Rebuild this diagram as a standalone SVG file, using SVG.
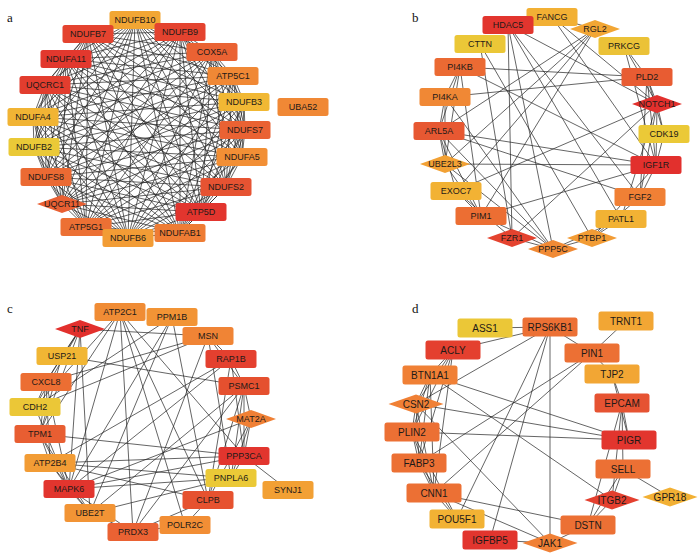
<svg xmlns="http://www.w3.org/2000/svg" xmlns:xlink="http://www.w3.org/1999/xlink" width="700" height="557" viewBox="0 0 700 557">
<style>
.e path{fill:none;stroke:#222;stroke-width:0.7}
.n text{fill:#1e1a18;font-family:"Liberation Sans",Arial,sans-serif;font-size:9px;text-anchor:middle}
.d text{font-size:10px}
.lbl{font-family:"Liberation Serif","Times New Roman",serif;font-size:13px;fill:#111}
</style>
<defs>
<rect id="r" x="-25.5" y="-9" width="51" height="18" rx="2.5"/>
<polygon id="m" points="-25,0 0,-9 25,0 0,9"/>
<rect id="rd" x="-27.5" y="-9.5" width="55" height="19" rx="2.5"/>
<polygon id="md" points="-27.5,0 0,-9.5 27.5,0 0,9.5"/>
</defs>
<rect width="700" height="557" fill="#fff"/>
<text class="lbl" x="7" y="22">a</text>
<text class="lbl" x="412" y="22">b</text>
<text class="lbl" x="7" y="313">c</text>
<text class="lbl" x="412" y="313">d</text>
<g id="connectors" class="e">
<g id="edges-a"><path d="M135 20L88 34M135 20L180 32M135 20L212 52M135 20L66 59M135 20L233 76M135 20L45 85M135 20L244 102M135 20L33 117M135 20L245 130M135 20L34 147M135 20L242 157M135 20L46 177M135 20L226 187M135 20L62 204M135 20L201 212M135 20L86 227M135 20L180 233M135 20L128 238M88 34L180 32M88 34L212 52M88 34L66 59M88 34L233 76M88 34L45 85M88 34L244 102M88 34L33 117M88 34L245 130M88 34L34 147M88 34L242 157M88 34L46 177M88 34L226 187M88 34L62 204M88 34L201 212M88 34L86 227M88 34L180 233M88 34L128 238M180 32L212 52M180 32L66 59M180 32L233 76M180 32L45 85M180 32L244 102M180 32L33 117M180 32L245 130M180 32L34 147M180 32L242 157M180 32L46 177M180 32L226 187M180 32L62 204M180 32L201 212M180 32L86 227M180 32L180 233M180 32L128 238M212 52L66 59M212 52L233 76M212 52L45 85M212 52L244 102M212 52L33 117M212 52L245 130M212 52L34 147M212 52L242 157M212 52L46 177M212 52L226 187M212 52L62 204M212 52L201 212M212 52L86 227M212 52L180 233M212 52L128 238M66 59L233 76M66 59L45 85M66 59L244 102M66 59L33 117M66 59L245 130M66 59L34 147M66 59L242 157M66 59L46 177M66 59L226 187M66 59L62 204M66 59L201 212M66 59L86 227M66 59L180 233M66 59L128 238M233 76L45 85M233 76L244 102M233 76L33 117M233 76L245 130M233 76L34 147M233 76L242 157M233 76L46 177M233 76L226 187M233 76L62 204M233 76L201 212M233 76L86 227M233 76L180 233M233 76L128 238M45 85L244 102M45 85L33 117M45 85L245 130M45 85L34 147M45 85L242 157M45 85L46 177M45 85L226 187M45 85L62 204M45 85L201 212M45 85L86 227M45 85L180 233M45 85L128 238M244 102L33 117M244 102L245 130M244 102L34 147M244 102L242 157M244 102L46 177M244 102L226 187M244 102L62 204M244 102L201 212M244 102L86 227M244 102L180 233M244 102L128 238M33 117L245 130M33 117L34 147M33 117L242 157M33 117L46 177M33 117L226 187M33 117L62 204M33 117L201 212M33 117L86 227M33 117L180 233M33 117L128 238M245 130L34 147M245 130L242 157M245 130L46 177M245 130L226 187M245 130L62 204M245 130L201 212M245 130L86 227M245 130L180 233M245 130L128 238M34 147L242 157M34 147L46 177M34 147L226 187M34 147L62 204M34 147L201 212M34 147L86 227M34 147L180 233M34 147L128 238M242 157L46 177M242 157L226 187M242 157L62 204M242 157L201 212M242 157L86 227M242 157L180 233M242 157L128 238M46 177L226 187M46 177L62 204M46 177L201 212M46 177L86 227M46 177L180 233M46 177L128 238M226 187L62 204M226 187L201 212M226 187L86 227M226 187L180 233M226 187L128 238M62 204L201 212M62 204L86 227M62 204L180 233M62 204L128 238M201 212L86 227M201 212L180 233M201 212L128 238M86 227L180 233M86 227L128 238M180 233L128 238"/></g>
<g id="edges-b"><path d="M552 17L595 29M552 17L657 104M552 17L656 165M508 25L512 238M508 25L553 249M508 25L640 197M508 25L657 104M508 25L621 219M595 29L439 131M595 29L445 164M595 29L456 191M595 29L481 216M624 46L647 77M624 46L657 104M624 46L656 165M460 67L647 77M445 97L647 77M647 77L657 104M647 77L664 134M647 77L656 165M647 77L640 197M480 44L592 238M480 44L512 238M460 67L445 97M460 67L439 131M460 67L445 164M460 67L481 216M460 67L656 165M445 97L439 131M445 97L445 164M445 97L553 249M439 131L445 164M439 131L456 191M439 131L481 216M439 131L656 165M439 131L640 197M439 131L553 249M445 164L656 165M445 164L481 216M445 164L553 249M456 191L481 216M456 191L512 238M456 191L657 104M481 216L656 165M481 216L553 249M512 238L553 249M512 238L657 104M553 249L592 238M553 249L621 219M592 238L621 219M592 238L640 197M592 238L656 165M657 104L664 134M657 104L656 165M657 104L640 197M657 104L621 219M664 134L656 165M656 165L640 197"/></g>
<g id="edges-c"><path d="M80 329L208 336M80 329L62 356M80 329L46 382M80 329L35 407M80 329L40 434M80 329L69 489M80 329L90 513M120 312L35 407M120 312L40 434M120 312L133 532M120 312L208 500M120 312L185 525M120 312L244 456M120 312L69 489M172 317L208 500M172 317L35 407M172 317L69 489M172 317L90 513M208 336L231 359M208 336L244 386M208 336L46 382M208 336L35 407M208 336L231 478M208 336L133 532M62 356L244 386M62 356L46 382M62 356L40 434M231 359L50 463M231 359L69 489M231 359L244 386M231 359L244 456M231 359L208 500M46 382L35 407M46 382L40 434M46 382L50 463M46 382L69 489M35 407L69 489M244 386L251 419M244 386L244 456M244 386L231 478M244 386L208 500M244 386L90 513M244 386L133 532M251 419L244 456M251 419L231 478M251 419L208 500M251 419L69 489M40 434L244 456M40 434L50 463M40 434L69 489M40 434L90 513M50 463L244 456M50 463L231 478M50 463L208 500M50 463L69 489M50 463L90 513M69 489L231 478M69 489L244 456M69 489L90 513M69 489L133 532M244 456L288 490M244 456L231 478M208 500L185 525M208 500L133 532M90 513L133 532M133 532L185 525M231 478L90 513"/></g>
<g id="edges-d"><path d="M485 328L550 327M453 350L550 327M626 321L592 353M550 327L592 353M592 353L612 374M612 374L622 403M612 374L629 440M622 403L629 440M622 403L623 469M622 403L612 500M622 403L588 525M623 469L670 497M623 469L612 500M623 469L588 525M612 500L588 525M588 525L550 543M550 543L490 540M550 327L550 543M550 327L416 404M550 327L490 540M550 327L457 519M592 353L419 463M592 353L434 493M430 375L629 440M416 404L629 440M412 432L629 440M430 375L612 500M416 404L550 543M434 493L588 525M434 493L550 543M453 350L430 375M453 350L416 404M453 350L412 432M453 350L419 463M453 350L434 493M430 375L416 404M430 375L412 432M430 375L419 463M430 375L434 493M416 404L412 432M416 404L419 463M416 404L434 493M412 432L419 463M412 432L434 493M419 463L434 493M419 463L457 519M434 493L457 519M412 432L457 519"/></g>
</g>
<g id="nodes-a">
<g id="NDUFB10" class="n" transform="translate(135 20)" fill="#F2A634"><use href="#r"/><text y="3.2">NDUFB10</text></g>
<g id="NDUFB7" class="n" transform="translate(88 34)" fill="#E4432F"><use href="#r"/><text y="3.2">NDUFB7</text></g>
<g id="NDUFB9" class="n" transform="translate(180 32)" fill="#E4432F"><use href="#r"/><text y="3.2">NDUFB9</text></g>
<g id="COX5A" class="n" transform="translate(212 52)" fill="#EA6233"><use href="#r"/><text y="3.2">COX5A</text></g>
<g id="NDUFA11" class="n" transform="translate(66 59)" fill="#E2382E"><use href="#r"/><text y="3.2">NDUFA11</text></g>
<g id="ATP5C1" class="n" transform="translate(233 76)" fill="#F08835"><use href="#r"/><text y="3.2">ATP5C1</text></g>
<g id="UQCRC1" class="n" transform="translate(45 85)" fill="#E23D2E"><use href="#r"/><text y="3.2">UQCRC1</text></g>
<g id="NDUFB3" class="n" transform="translate(244 102)" fill="#F1B834"><use href="#r"/><text y="3.2">NDUFB3</text></g>
<g id="UBA52" class="n" transform="translate(303 107)" fill="#F08835"><use href="#r"/><text y="3.2">UBA52</text></g>
<g id="NDUFA4" class="n" transform="translate(33 117)" fill="#F1B434"><use href="#r"/><text y="3.2">NDUFA4</text></g>
<g id="NDUFS7" class="n" transform="translate(245 130)" fill="#EA6233"><use href="#r"/><text y="3.2">NDUFS7</text></g>
<g id="NDUFB2" class="n" transform="translate(34 147)" fill="#EAC937"><use href="#r"/><text y="3.2">NDUFB2</text></g>
<g id="NDUFA5" class="n" transform="translate(242 157)" fill="#F28F35"><use href="#r"/><text y="3.2">NDUFA5</text></g>
<g id="NDUFS8" class="n" transform="translate(46 177)" fill="#EB6A33"><use href="#r"/><text y="3.2">NDUFS8</text></g>
<g id="NDUFS2" class="n" transform="translate(226 187)" fill="#E65332"><use href="#r"/><text y="3.2">NDUFS2</text></g>
<g id="UQCR11" class="n" transform="translate(62 204)" fill="#E96033"><use href="#m"/><text y="3.2">UQCR11</text></g>
<g id="ATP5D" class="n" transform="translate(201 212)" fill="#E2352E"><use href="#r"/><text y="3.2">ATP5D</text></g>
<g id="ATP5G1" class="n" transform="translate(86 227)" fill="#EC7034"><use href="#r"/><text y="3.2">ATP5G1</text></g>
<g id="NDUFAB1" class="n" transform="translate(180 233)" fill="#EE7C34"><use href="#r"/><text y="3.2">NDUFAB1</text></g>
<g id="NDUFB6" class="n" transform="translate(128 238)" fill="#F29C35"><use href="#r"/><text y="3.2">NDUFB6</text></g>
</g>
<g id="nodes-b">
<g id="FANCG" class="n" transform="translate(552 17)" fill="#F2B034"><use href="#r"/><text y="3.2">FANCG</text></g>
<g id="HDAC5" class="n" transform="translate(508 25)" fill="#E2352E"><use href="#r"/><text y="3.2">HDAC5</text></g>
<g id="RGL2" class="n" transform="translate(595 29)" fill="#F2A634"><use href="#m"/><text y="3.2">RGL2</text></g>
<g id="CTTN" class="n" transform="translate(480 44)" fill="#EBC737"><use href="#r"/><text y="3.2">CTTN</text></g>
<g id="PRKCG" class="n" transform="translate(624 46)" fill="#EBC237"><use href="#r"/><text y="3.2">PRKCG</text></g>
<g id="PI4KB" class="n" transform="translate(460 67)" fill="#EB6A33"><use href="#r"/><text y="3.2">PI4KB</text></g>
<g id="PLD2" class="n" transform="translate(647 77)" fill="#E85C32"><use href="#r"/><text y="3.2">PLD2</text></g>
<g id="PI4KA" class="n" transform="translate(445 97)" fill="#F08835"><use href="#r"/><text y="3.2">PI4KA</text></g>
<g id="NOTCH1" class="n" transform="translate(657 104)" fill="#E2302D"><use href="#m"/><text y="3.2">NOTCH1</text></g>
<g id="ARL5A" class="n" transform="translate(439 131)" fill="#E75832"><use href="#r"/><text y="3.2">ARL5A</text></g>
<g id="CDK19" class="n" transform="translate(664 134)" fill="#EBC937"><use href="#r"/><text y="3.2">CDK19</text></g>
<g id="UBE2L3" class="n" transform="translate(445 164)" fill="#F2A134"><use href="#m"/><text y="3.2">UBE2L3</text></g>
<g id="IGF1R" class="n" transform="translate(656 165)" fill="#E2302D"><use href="#r"/><text y="3.2">IGF1R</text></g>
<g id="EXOC7" class="n" transform="translate(456 191)" fill="#F2B234"><use href="#r"/><text y="3.2">EXOC7</text></g>
<g id="FGF2" class="n" transform="translate(640 197)" fill="#F08035"><use href="#r"/><text y="3.2">FGF2</text></g>
<g id="PIM1" class="n" transform="translate(481 216)" fill="#EC6E33"><use href="#r"/><text y="3.2">PIM1</text></g>
<g id="PATL1" class="n" transform="translate(621 219)" fill="#F2B234"><use href="#r"/><text y="3.2">PATL1</text></g>
<g id="FZR1" class="n" transform="translate(512 238)" fill="#E4432F"><use href="#m"/><text y="3.2">FZR1</text></g>
<g id="PTBP1" class="n" transform="translate(592 238)" fill="#F29C35"><use href="#m"/><text y="3.2">PTBP1</text></g>
<g id="PPP5C" class="n" transform="translate(553 249)" fill="#F08A35"><use href="#m"/><text y="3.2">PPP5C</text></g>
</g>
<g id="nodes-c">
<g id="ATP2C1" class="n" transform="translate(120 312)" fill="#F08C35"><use href="#r"/><text y="3.2">ATP2C1</text></g>
<g id="PPM1B" class="n" transform="translate(172 317)" fill="#F29435"><use href="#r"/><text y="3.2">PPM1B</text></g>
<g id="TNF" class="n" transform="translate(80 329)" fill="#E2302D"><use href="#m"/><text y="3.2">TNF</text></g>
<g id="MSN" class="n" transform="translate(208 336)" fill="#F08435"><use href="#r"/><text y="3.2">MSN</text></g>
<g id="USP21" class="n" transform="translate(62 356)" fill="#F1B634"><use href="#r"/><text y="3.2">USP21</text></g>
<g id="RAP1B" class="n" transform="translate(231 359)" fill="#E4402F"><use href="#r"/><text y="3.2">RAP1B</text></g>
<g id="CXCL8" class="n" transform="translate(46 382)" fill="#EC6E33"><use href="#r"/><text y="3.2">CXCL8</text></g>
<g id="PSMC1" class="n" transform="translate(244 386)" fill="#E5502F"><use href="#r"/><text y="3.2">PSMC1</text></g>
<g id="CDH2" class="n" transform="translate(35 407)" fill="#EBC737"><use href="#r"/><text y="3.2">CDH2</text></g>
<g id="MAT2A" class="n" transform="translate(251 419)" fill="#F08035"><use href="#m"/><text y="3.2">MAT2A</text></g>
<g id="TPM1" class="n" transform="translate(40 434)" fill="#E85E32"><use href="#r"/><text y="3.2">TPM1</text></g>
<g id="PPP3CA" class="n" transform="translate(244 456)" fill="#E2352E"><use href="#r"/><text y="3.2">PPP3CA</text></g>
<g id="ATP2B4" class="n" transform="translate(50 463)" fill="#F29C35"><use href="#r"/><text y="3.2">ATP2B4</text></g>
<g id="PNPLA6" class="n" transform="translate(231 478)" fill="#EBC937"><use href="#r"/><text y="3.2">PNPLA6</text></g>
<g id="SYNJ1" class="n" transform="translate(288 490)" fill="#F2A034"><use href="#r"/><text y="3.2">SYNJ1</text></g>
<g id="MAPK6" class="n" transform="translate(69 489)" fill="#E2352E"><use href="#r"/><text y="3.2">MAPK6</text></g>
<g id="CLPB" class="n" transform="translate(208 500)" fill="#E6522F"><use href="#r"/><text y="3.2">CLPB</text></g>
<g id="UBE2T" class="n" transform="translate(90 513)" fill="#F29435"><use href="#r"/><text y="3.2">UBE2T</text></g>
<g id="POLR2C" class="n" transform="translate(185 525)" fill="#F28E35"><use href="#r"/><text y="3.2">POLR2C</text></g>
<g id="PRDX3" class="n" transform="translate(133 532)" fill="#EA6233"><use href="#r"/><text y="3.2">PRDX3</text></g>
</g>
<g id="nodes-d">
<g id="ASS1" class="n d" transform="translate(485 328)" fill="#EBC737"><use href="#rd"/><text y="3.5">ASS1</text></g>
<g id="RPS6KB1" class="n d" transform="translate(550 327)" fill="#EC7034"><use href="#rd"/><text y="3.5">RPS6KB1</text></g>
<g id="TRNT1" class="n d" transform="translate(626 321)" fill="#F2A634"><use href="#rd"/><text y="3.5">TRNT1</text></g>
<g id="ACLY" class="n d" transform="translate(453 350)" fill="#E4402F"><use href="#rd"/><text y="3.5">ACLY</text></g>
<g id="PIN1" class="n d" transform="translate(592 353)" fill="#EC7034"><use href="#rd"/><text y="3.5">PIN1</text></g>
<g id="BTN1A1" class="n d" transform="translate(430 375)" fill="#F08035"><use href="#rd"/><text y="3.5">BTN1A1</text></g>
<g id="TJP2" class="n d" transform="translate(612 374)" fill="#F2A634"><use href="#rd"/><text y="3.5">TJP2</text></g>
<g id="CSN2" class="n d" transform="translate(416 404)" fill="#F08035"><use href="#md"/><text y="3.5">CSN2</text></g>
<g id="EPCAM" class="n d" transform="translate(622 403)" fill="#E65332"><use href="#rd"/><text y="3.5">EPCAM</text></g>
<g id="PLIN2" class="n d" transform="translate(412 432)" fill="#EC7034"><use href="#rd"/><text y="3.5">PLIN2</text></g>
<g id="PIGR" class="n d" transform="translate(629 440)" fill="#E2352E"><use href="#rd"/><text y="3.5">PIGR</text></g>
<g id="FABP3" class="n d" transform="translate(419 463)" fill="#EC7034"><use href="#rd"/><text y="3.5">FABP3</text></g>
<g id="SELL" class="n d" transform="translate(623 469)" fill="#EC7034"><use href="#rd"/><text y="3.5">SELL</text></g>
<g id="CNN1" class="n d" transform="translate(434 493)" fill="#EC7034"><use href="#rd"/><text y="3.5">CNN1</text></g>
<g id="ITGB2" class="n d" transform="translate(612 500)" fill="#E4402F"><use href="#md"/><text y="3.5">ITGB2</text></g>
<g id="GPR18" class="n d" transform="translate(670 497)" fill="#F2B034"><use href="#md"/><text y="3.5">GPR18</text></g>
<g id="POU5F1" class="n d" transform="translate(457 519)" fill="#F2B234"><use href="#rd"/><text y="3.5">POU5F1</text></g>
<g id="DSTN" class="n d" transform="translate(588 525)" fill="#EC7034"><use href="#rd"/><text y="3.5">DSTN</text></g>
<g id="IGFBP5" class="n d" transform="translate(490 540)" fill="#E2352E"><use href="#rd"/><text y="3.5">IGFBP5</text></g>
<g id="JAK1" class="n d" transform="translate(550 543)" fill="#F08035"><use href="#md"/><text y="3.5">JAK1</text></g>
</g>
</svg>
